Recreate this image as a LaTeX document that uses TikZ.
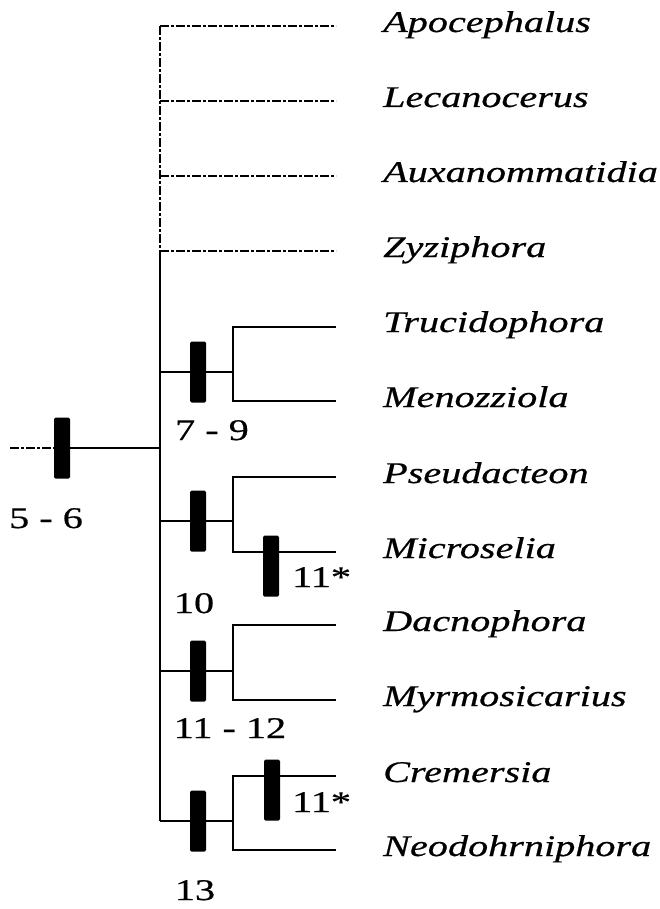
\documentclass[tikz,border=0pt]{standalone}
\usepackage{fontspec}
\setmainfont{Liberation Serif}[FakeStretch=1.34, FakeBold=0.6]
\usetikzlibrary{positioning}

\begin{document}
\begin{tikzpicture}[
    x=1pt, y=-1pt,
    branch/.style={line width=1.3pt},
    dashbranch/.style={branch, dash pattern=on 9pt off 2pt on 3pt off 2pt},
    taxon/.style={anchor=base west, inner sep=0pt, font=\fontsize{30}{32}\selectfont\itshape},
    num/.style={anchor=base, inner sep=0pt, font=\fontsize{30}{32}\selectfont},
    bar/.style={fill=black, rounded corners=1.5pt, minimum width=16pt, minimum height=61pt, inner sep=0pt}
]
\useasboundingbox (0,0) rectangle (660,909);

% taxa
\node[taxon] (apo) at (383,32) {Apocephalus};
\node[taxon] (lec) at (383,107) {Lecanocerus};
\node[taxon] (aux) at (383,182) {Auxanommatidia};
\node[taxon] (zyz) at (383,257) {Zyziphora};
\node[taxon] (tru) at (383,332) {Trucidophora};
\node[taxon] (men) at (383,407) {Menozziola};
\node[taxon] (pse) at (383,483) {Pseudacteon};
\node[taxon] (mic) at (383,558) {Microselia};
\node[taxon] (dac) at (383,631) {Dacnophora};
\node[taxon] (myr) at (383,706) {Myrmosicarius};
\node[taxon] (cre) at (383,782) {Cremersia};
\node[taxon] (neo) at (383,856) {Neodohrniphora};

% branch tips
\coordinate (apo-e) at (336,26);
\coordinate (lec-e) at (336,101);
\coordinate (aux-e) at (336,176);
\coordinate (zyz-e) at (336,251);
\coordinate (tru-e) at (336,327);
\coordinate (men-e) at (336,401);
\coordinate (pse-e) at (336,477);
\coordinate (mic-e) at (336,552);
\coordinate (dac-e) at (336,625);
\coordinate (myr-e) at (336,700);
\coordinate (cre-e) at (336,776);
\coordinate (neo-e) at (336,850);

% spine and clade joints
\coordinate (root) at (10,448);
\coordinate (spine) at (160,448);
\coordinate (s1) at (160,26);
\coordinate (s2) at (160,101);
\coordinate (s3) at (160,176);
\coordinate (s4) at (160,251);
\coordinate (k1) at (160,372);
\coordinate (k2) at (160,521);
\coordinate (k3) at (160,671);
\coordinate (k4) at (160,821);
\coordinate (j1) at (233,372);
\coordinate (j2) at (233,521);
\coordinate (j3) at (233,671);
\coordinate (j4) at (233,821);

% character bars
\node[bar] (b56) at (62,448) {};
\node[bar] (b79) at (198,372) {};
\node[bar] (b10) at (198,521) {};
\node[bar] (b11a) at (271,566) {};
\node[bar] (b1112) at (198,671) {};
\node[bar] (b13) at (198,821) {};
\node[bar] (b11b) at (272,790) {};

% tree
\draw[dashbranch] (root) -- (b56);
\draw[branch] (b56) -- (spine);
\draw[dashbranch] (s1) -- (s4);
\draw[branch] (s4) -- (k4);
\draw[dashbranch] (s1) -- (apo-e);
\draw[dashbranch] (s2) -- (lec-e);
\draw[dashbranch] (s3) -- (aux-e);
\draw[dashbranch] (s4) -- (zyz-e);

\draw[branch] (k1) -- (b79) -- (j1);
\draw[branch] (tru-e) -| (j1) |- (men-e);
\draw[branch] (k2) -- (b10) -- (j2);
\draw[branch] (pse-e) -| (j2) |- (b11a.west |- mic-e) -- (mic-e);
\draw[branch] (k3) -- (b1112) -- (j3);
\draw[branch] (dac-e) -| (j3) |- (myr-e);
\draw[branch] (k4) -- (b13) -- (j4);
\draw[branch] (cre-e) -| (j4) |- (neo-e);

% character numbers
\node[num] (n56) at (46,528) {5 - 6};
\node[num] (n79) at (212,440) {7 - 9};
\node[num] (n10) at (194,613) {10};
\node[num, anchor=base west] (n11a) at (292,587) {11*};
\node[num] (n1112) at (230,738) {11 - 12};
\node[num, anchor=base west] (n11b) at (292,812) {11*};
\node[num] (n13) at (195,900) {13};

\end{tikzpicture}
\end{document}
